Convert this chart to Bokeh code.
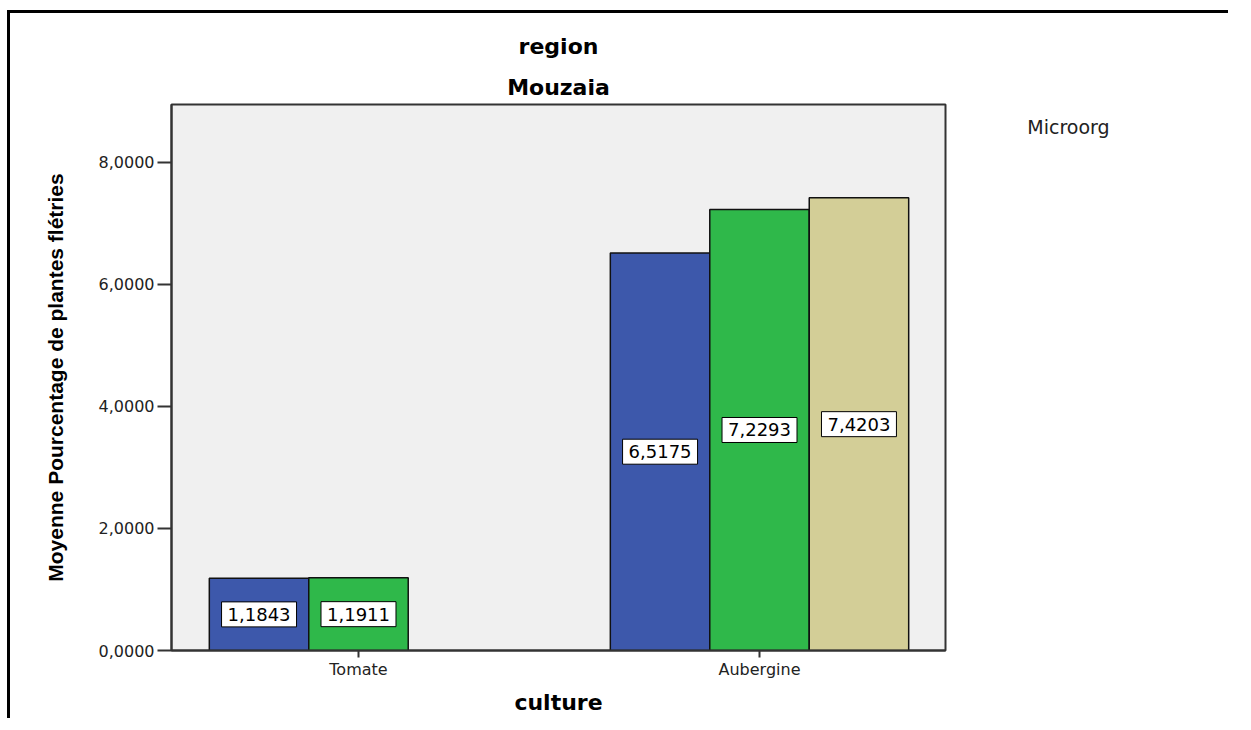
import math
from bokeh.plotting import figure
from bokeh.models import (Range1d, FixedTicker, Label, Legend, LegendItem, Title,
                          ColumnDataSource, CustomJSTickFormatter)
from bokeh.layouts import row
from bokeh.embed import file_html
from bokeh.resources import INLINE

# ---- data ----
cultures = ["Tomate", "Aubergine"]
microorg = ["Verticillium sp.", "Fusarium sp.", "Verticillium + Fusarium"]
verticillium = [1.1843, 6.5175]
fusarium = [1.1911, 7.2293]
verti_fusarium = [float("nan"), 7.4203]
y_ticks = [0, 2, 4, 6, 8]
panel_title = "region"
panel_value = "Mouzaia"
legend_title = "Microorg"

series_values = [verticillium, fusarium, verti_fusarium]
colors = ["#3d58ab", "#2fb84a", "#d3ce97"]
offsets = [-0.248, 0.0, 0.248]
bar_w = 0.248

H = 705
p = figure(width=938, height=H, output_backend="svg", toolbar_location=None,
           x_range=Range1d(-0.4663, 1.4638), y_range=Range1d(0, 8.95),
           min_border_left=161, min_border_right=3, min_border_top=91,
           min_border_bottom=68)
p.background_fill_color = "#f0f0f0"
p.border_fill_color = "white"
p.outline_line_color = "#333333"
p.outline_line_width = 2
p.xgrid.visible = False
p.ygrid.visible = False

for k, vals in enumerate(series_values):
    xs, tops = [], []
    for i, v in enumerate(vals):
        if v is None or (isinstance(v, float) and math.isnan(v)):
            continue
        xs.append(i + offsets[k])
        tops.append(v)
    src = ColumnDataSource(dict(x=xs, top=tops))
    p.vbar(x="x", top="top", width=bar_w, source=src, fill_color=colors[k],
           line_color="#111111", line_width=1.5)
    for x, v in zip(xs, tops):
        p.add_layout(Label(x=x, y=v / 2, text=f"{v:.4f}".replace(".", ","),
                           text_align="center", text_baseline="middle",
                           text_font="DejaVu Sans", text_font_size="18px",
                           text_color="black", background_fill_color="white",
                           border_line_color="black", border_line_width=1,
                           padding=6))

# titles
p.add_layout(Title(text=panel_value, align="center", text_font="DejaVu Sans",
                   text_font_style="bold", text_font_size="22px",
                   text_color="black", standoff=9), "above")
p.add_layout(Title(text=panel_title, align="center", text_font="DejaVu Sans",
                   text_font_style="bold", text_font_size="22px",
                   text_color="black", standoff=20), "above")

# axes
p.yaxis.ticker = FixedTicker(ticks=y_ticks)
p.yaxis.formatter = CustomJSTickFormatter(code="return tick.toFixed(4).replace('.', ',');")
p.yaxis.major_tick_out = 14
p.yaxis.major_tick_in = 0
p.yaxis.minor_tick_out = 0
p.yaxis.minor_tick_in = 0
p.yaxis.major_label_standoff = 3
p.yaxis.major_label_text_font = "DejaVu Sans"
p.yaxis.major_label_text_font_size = "16px"
p.yaxis.major_label_text_color = "#222222"
p.yaxis.axis_line_color = "#333333"
p.yaxis.axis_line_width = 2
p.yaxis.major_tick_line_color = "#333333"
p.yaxis.major_tick_line_width = 2
p.yaxis.axis_label = "Moyenne Pourcentage de plantes flétries"
p.yaxis.axis_label_text_font = "Liberation Sans"
p.yaxis.axis_label_text_font_style = "bold"
p.yaxis.axis_label_text_font_size = "21px"
p.yaxis.axis_label_text_color = "black"
p.yaxis.axis_label_standoff = 29

p.xaxis.ticker = FixedTicker(ticks=list(range(len(cultures))))
p.xaxis.major_label_overrides = {i: c for i, c in enumerate(cultures)}
p.xaxis.major_tick_out = 7
p.xaxis.major_tick_in = 0
p.xaxis.minor_tick_out = 0
p.xaxis.minor_tick_in = 0
p.xaxis.major_label_standoff = 2
p.xaxis.major_label_text_font = "DejaVu Sans"
p.xaxis.major_label_text_font_size = "16px"
p.xaxis.major_label_text_color = "#222222"
p.xaxis.axis_line_color = "#333333"
p.xaxis.axis_line_width = 2
p.xaxis.major_tick_line_color = "#333333"
p.xaxis.major_tick_line_width = 2
p.xaxis.axis_label = "culture"
p.xaxis.axis_label_text_font = "DejaVu Sans"
p.xaxis.axis_label_text_font_style = "bold"
p.xaxis.axis_label_text_font_size = "22px"
p.xaxis.axis_label_text_color = "black"
p.xaxis.axis_label_standoff = 8

# legend panel (separate figure to the right, same height)
LW = 280
lg = figure(width=LW, height=H, output_backend="svg", toolbar_location=None,
            x_range=Range1d(0, LW), y_range=Range1d(H, 0),
            x_axis_location=None, y_axis_location=None,
            min_border=0, min_border_left=0, min_border_right=0,
            min_border_top=0, min_border_bottom=0)
lg.outline_line_color = None
lg.background_fill_color = None
lg.border_fill_color = None
lg.xgrid.visible = False
lg.ygrid.visible = False
dummy = []
for k in range(len(microorg)):
    dummy.append(lg.vbar(x="x", top="top", width=1,
                         source=ColumnDataSource(dict(x=[], top=[])),
                         fill_color=colors[k], line_color="#111111", line_width=1.5))
lg.add_layout(Label(x=120, y=29, text=legend_title, text_align="center",
                    text_baseline="middle", text_font="DejaVu Sans",
                    text_font_size="19px", text_color="#222222"))
legend = Legend(items=[LegendItem(label=n, renderers=[r]) for n, r in zip(microorg, dummy)],
                location=(1, H - 105), glyph_width=20, glyph_height=16, label_height=16,
                spacing=0, padding=0, margin=0, border_line_color=None,
                background_fill_alpha=0, label_text_font="DejaVu Sans",
                label_text_font_size="17px", label_text_color="#222222",
                label_standoff=6)
lg.add_layout(legend)

layout = row(p, lg, styles={"border-top": "3px solid black",
                            "border-left": "3px solid black",
                            "margin": "10px 0px 0px 7px"})
open("out.html", "w").write(file_html(layout, INLINE))
